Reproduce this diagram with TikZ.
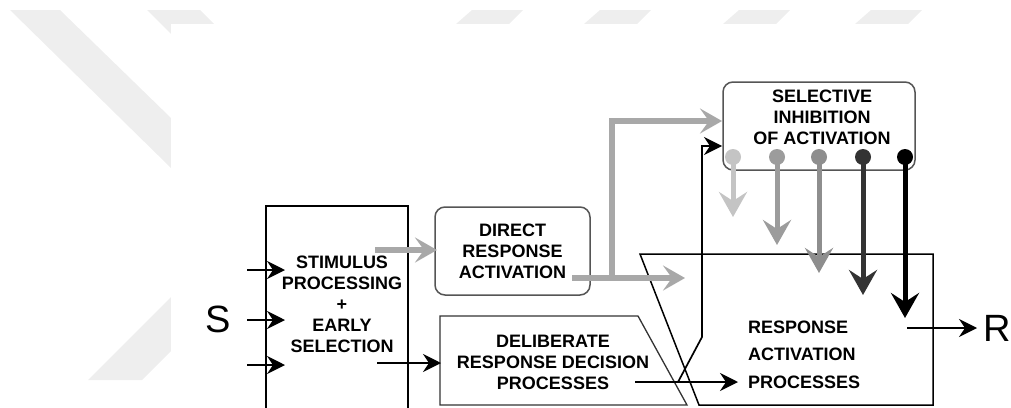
\documentclass[tikz,border=0pt]{standalone}
\usepackage{fontspec}
\setmainfont{Liberation Sans}
\usetikzlibrary{arrows.meta}

\definecolor{markgray}{HTML}{EEEEEE}
\definecolor{linkgray}{HTML}{A8A8A8}
\definecolor{edgegray}{HTML}{555555}
\definecolor{inhA}{HTML}{C4C4C4}
\definecolor{inhB}{HTML}{9C9C9C}
\definecolor{inhC}{HTML}{8E8E8E}
\definecolor{inhD}{HTML}{333333}
\definecolor{inhE}{HTML}{000000}

\begin{document}
\begin{tikzpicture}[x=1pt, y=-1pt,
    boxtext/.style={font={\fontsize{18pt}{21pt}\selectfont\bfseries}, align=center, inner sep=0pt},
    roundbox/.style={draw=edgegray, line width=1.5pt, rounded corners=10pt},
    thinarrow/.style={line width=1.7pt, -{Stealth[length=18pt,width=18pt,inset=6pt]}},
    grayarrow/.style={draw=linkgray, line width=6pt, -{Stealth[length=22pt,width=25pt,inset=9pt]}},
    inharrow/.style={line width=5pt, -{Stealth[length=25pt,width=28pt,inset=9pt]}}]
  \useasboundingbox (0,0) rectangle (1011,407);
  % watermark behind the figure
  \fill[markgray] (10,10) -- (60,10) -- (171,118) -- (171,168) -- cycle;
  \fill[markgray] (147,10) -- (200,10) -- (214,24) -- (171,24) -- (171,34) -- cycle;
  \fill[markgray] (88,380) -- (142,380) -- (171,351) -- (171,297) -- cycle;
  \foreach \a in {456,584,723,855}
    \fill[markgray] (\a+16,10) -- (\a+67,10) -- (\a+53,24) -- (\a,24) -- cycle;
  \fill[white] (171,24) rectangle (1011,407);

  % boxes
  \node[draw, line width=1.5pt, minimum width=142pt, minimum height=206pt, inner sep=0pt] (stim) at (337,309) {};
  \node[roundbox, boxtext, minimum width=155pt, minimum height=88pt] (direct) at (512.5,251) {DIRECT\\RESPONSE\\ACTIVATION};
  \node[roundbox, minimum width=192pt, minimum height=88pt] (inhib) at (819,126) {};
  \draw[draw=black!80, line width=1.3pt] (440,405) -- (440,316) -- (638,316) -- (687,405) -- cycle;
  \draw[line width=1.5pt] (640,254) -- (933,254) -- (933,405) -- (699,405) -- cycle;

  % texts
  \node[boxtext] (stimtext) at (342,304.5) {STIMULUS\\PROCESSING\\+\\EARLY\\SELECTION};
  \node[boxtext] (delibtext) at (553,362) {DELIBERATE\\RESPONSE DECISION\\PROCESSES};
  \node[boxtext] (inhibtext) at (822,117.5) {SELECTIVE\\INHIBITION\\OF ACTIVATION};
  \node[boxtext, font={\fontsize{18pt}{27.5pt}\selectfont\bfseries}, align=left, anchor=west] (resptext) at (748,354.5) {RESPONSE\\ACTIVATION\\PROCESSES};
  \node[font={\fontsize{38pt}{38pt}\selectfont}, inner sep=0pt] (S) at (218,319) {S};
  \node[font={\fontsize{38pt}{38pt}\selectfont}, inner sep=0pt, anchor=west] (R) at (983,328) {R};

  % inputs
  \foreach \y [count=\i] in {270,320,365}{
    \coordinate (in\i) at (247,\y);
    \coordinate (st\i) at (285,\y);
    \draw[thinarrow] (in\i) -- (st\i);
  }

  % direct route
  \coordinate (stimout) at (375,250);
  \coordinate (dirin) at (437,250);
  \coordinate (dirout) at (572,278);
  \coordinate (respin) at (685,278);
  \coordinate (fork) at (612,278);
  \coordinate (inhibin) at (722,121);
  \draw[grayarrow] (stimout) -- (dirin);
  \draw[grayarrow] (fork) |- (inhibin);
  \draw[grayarrow] (dirout) -- (respin);

  % deliberate route
  \coordinate (stimlow) at (377,363);
  \coordinate (delibin) at (441,363);
  \coordinate (delibout) at (635,382);
  \coordinate (respin2) at (738,382);
  \coordinate (branch) at (678,382);
  \coordinate (bend) at (702,337);
  \coordinate (inhibin2) at (722,146);
  \draw[thinarrow] (stimlow) -- (delibin);
  \draw[thinarrow] (delibout) -- (respin2);
  \draw[thinarrow] (branch) -- (bend) |- (inhibin2);

  % output
  \coordinate (respout) at (907,328);
  \coordinate (Rin) at (977,328);
  \draw[thinarrow] (respout) -- (Rin);

  % inhibition arrows
  \foreach \x/\t/\c in {733/217/inhA, 777/245/inhB, 819/273/inhC, 863/295/inhD, 905/318/inhE}{
    \coordinate (dot\c) at (\x,157);
    \coordinate (tip\c) at (\x,\t);
    \draw[inharrow, color=\c] (dot\c) -- (tip\c);
    \fill[\c] (dot\c) circle (8pt);
  }
\end{tikzpicture}
\end{document}
